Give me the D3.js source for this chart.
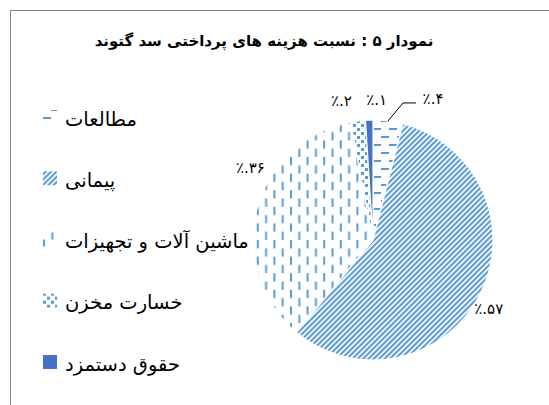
<!DOCTYPE html>
<html>
<head>
<meta charset="utf-8">
<script src="https://cdn.jsdelivr.net/npm/d3@7"></script>
<style>
  html, body { margin: 0; padding: 0; background: #fff; }
  svg { display: block; }
  text { font-family: "DejaVu Sans", sans-serif; fill: #000; }
</style>
</head>
<body>
<svg id="chart" width="549" height="405"></svg>
<script>
// ---- data ----
const title = "نمودار ۵ : نسبت هزینه های پرداختی سد گتوند";
const categories = ["مطالعات", "پیمانی", "ماشین آلات و تجهیزات", "خسارت مخزن", "حقوق دستمزد"];
const values = [4, 57, 36, 2, 1];
const fills = ["url(#pHorz)", "url(#pDiag)", "url(#pVert)", "url(#pConf)", "#4472C4"];

// ---- layout ----
const W = 549, H = 405;
const cx = 373, cy = 240, R = 120;
const blue = "#5B9BD5";

const svg = d3.select("#chart");
const defs = svg.append("defs");

// horizontal dashes
const pH = defs.append("pattern").attr("id", "pHorz").attr("patternUnits", "userSpaceOnUse")
  .attr("width", 16).attr("height", 16);
pH.append("rect").attr("width", 16).attr("height", 16).attr("fill", "#fff");
pH.append("rect").attr("x", 0).attr("y", 0).attr("width", 8).attr("height", 2).attr("fill", blue);
pH.append("rect").attr("x", 8).attr("y", 8).attr("width", 8).attr("height", 2).attr("fill", blue);

// vertical dashes
const pV = defs.append("pattern").attr("id", "pVert").attr("patternUnits", "userSpaceOnUse")
  .attr("width", 16.6).attr("height", 16.6);
pV.append("rect").attr("width", 16.6).attr("height", 16.6).attr("fill", "#fff");
pV.append("rect").attr("x", 0).attr("y", 0).attr("width", 2).attr("height", 8.3).attr("fill", blue);
pV.append("rect").attr("x", 8.3).attr("y", 8.3).attr("width", 2).attr("height", 8.3).attr("fill", blue);

// wide upward diagonal
const pD = defs.append("pattern").attr("id", "pDiag").attr("patternUnits", "userSpaceOnUse")
  .attr("width", 3.8).attr("height", 10).attr("patternTransform", "rotate(45)");
pD.append("rect").attr("width", 3.8).attr("height", 10).attr("fill", "#fff");
pD.append("rect").attr("x", 0).attr("y", 0).attr("width", 2.1).attr("height", 10).attr("fill", blue);

// small squares
const pC = defs.append("pattern").attr("id", "pConf").attr("patternUnits", "userSpaceOnUse")
  .attr("width", 8).attr("height", 8);
pC.append("rect").attr("width", 8).attr("height", 8).attr("fill", "#fff");
pC.append("rect").attr("x", 0).attr("y", 0).attr("width", 3).attr("height", 3).attr("fill", blue);
pC.append("rect").attr("x", 4).attr("y", 4).attr("width", 3).attr("height", 3).attr("fill", blue);

// background + frame
svg.append("rect").attr("width", W).attr("height", H).attr("fill", "#fff");
svg.append("rect").attr("x", 10.5).attr("y", 10.5).attr("width", 600).attr("height", 500)
  .attr("fill", "none").attr("stroke", "#898989").attr("stroke-width", 1);

// title
svg.append("text").attr("x", 264).attr("y", 46).attr("text-anchor", "middle")
  .attr("font-size", 15).attr("font-weight", "bold").attr("direction", "rtl").text(title);

// pie
const pie = d3.pie().sort(null).value(d => d)(values);
const arc = d3.arc().innerRadius(0).outerRadius(R);
const g = svg.append("g").attr("transform", `translate(${cx},${cy})`);
g.selectAll("path.slice").data(pie).join("path").attr("class", "slice")
  .attr("d", arc).attr("fill", (d, i) => fills[i])
  .attr("stroke", "#fff").attr("stroke-width", 1.2);

// labels
const toFa = n => String(n).replace(/\d/g, c => "۰۱۲۳۴۵۶۷۸۹"[+c]);
const labelR = 140;
const nudges = [[null, null], [-9, 5], [13, -37], [-14, 0], [8, 0]];
const labArc = d3.arc().innerRadius(labelR).outerRadius(labelR);
const lab = g.selectAll("text.lab").data(pie).join("text").attr("class", "lab")
  .attr("font-size", 15).attr("text-anchor", "middle").attr("dominant-baseline", "central")
  .text(d => "\u202D٪." + toFa(d.data) + "\u202C");

lab.each(function(d, i) {
  const el = d3.select(this);
  if (i === 0) {
    // leader line from the slice's outer edge
    const a = (d.startAngle + d.endAngle) / 2;
    const p0 = [Math.sin(a) * R, -Math.cos(a) * R];
    const p1 = [p0[0] + 15, p0[1] - 18];
    const p2 = [p1[0] + 13, p1[1]];
    g.append("path").attr("d", d3.line()([p0, p1, p2]))
      .attr("fill", "none").attr("stroke", "#000").attr("stroke-width", 1);
    el.attr("x", p2[0] + 17).attr("y", p2[1] - 4);
  } else {
    const c = labArc.centroid(d);
    el.attr("x", c[0] + nudges[i][0]).attr("y", c[1] + nudges[i][1]);
  }
});

// legend
const legY = d3.scalePoint().domain(d3.range(categories.length)).range([117, 362]);
const leg = svg.selectAll("g.leg").data(categories).join("g").attr("class", "leg")
  .attr("transform", (d, i) => `translate(43,${legY(i)})`);
leg.append("rect").attr("x", 0).attr("y", -7).attr("width", 14).attr("height", 14)
  .attr("fill", (d, i) => fills[i]);
leg.append("text").attr("x", 22).attr("y", 2).attr("dominant-baseline", "central")
  .attr("font-size", 19.5).attr("text-anchor", "start").text(d => d);
</script>
</body>
</html>
